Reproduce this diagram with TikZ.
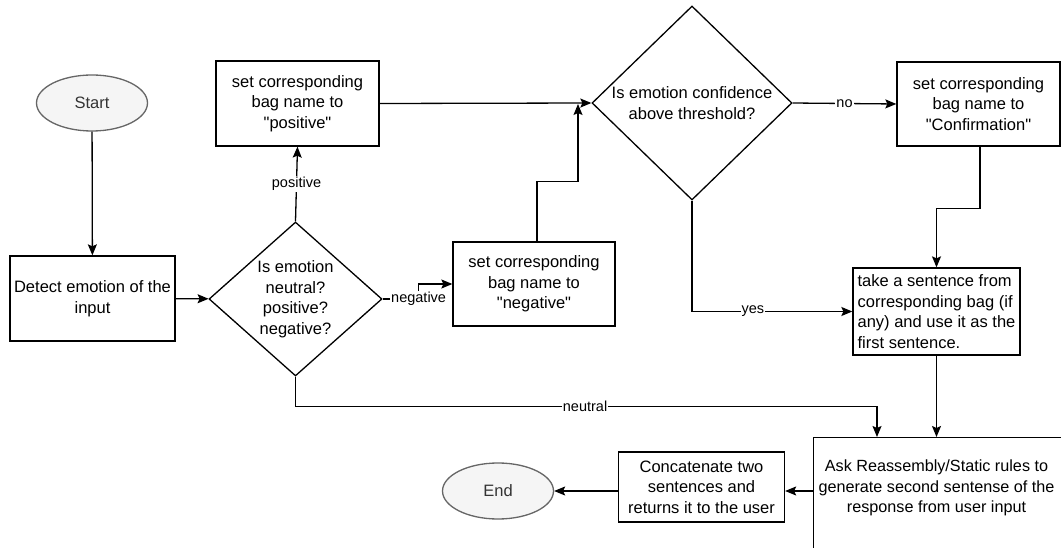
\documentclass[tikz,border=0pt]{standalone}
\usepackage{fontspec}
\setmainfont{Liberation Sans}
\usetikzlibrary{arrows.meta,shapes.geometric}
\definecolor{termfill}{HTML}{F5F5F5}
\definecolor{termline}{HTML}{666666}
\definecolor{termtext}{HTML}{333333}
\newcommand{\dq}[1]{\textquotedbl#1\textquotedbl}
\begin{document}
\begin{tikzpicture}[x=1pt,y=-1pt,
  line width=1.3pt,
  txt/.style={font=\fontsize{16.5}{20.5}\selectfont, align=center},
  box/.style={txt, draw, rectangle, inner sep=2pt},
  decision/.style={txt, draw, diamond, inner sep=0pt},
  term/.style={txt, draw=termline, fill=termfill, text=termtext, ellipse,
    minimum width=111, minimum height=56, inner sep=0pt},
  arr/.style={draw, -{Stealth[length=11pt,width=9pt,inset=2pt]}},
  lbl/.style={font=\fontsize{14.5}{17}\selectfont, fill=white, inner sep=1pt}]
\clip (0,0) rectangle (1061,548);
\fill[white] (0,0) rectangle (1061,548);

% terminals
\node[term] (start) at (92,103) {Start};
\node[term] (end) at (498,491) {End};

% process boxes
\node[box, minimum width=165, minimum height=85] (detect) at (92.5,298.5)
  {Detect emotion of the\\input};
\node[box, minimum width=163, minimum height=85] (pos) at (297.5,103.5)
  {set corresponding\\bag name to\\\dq{positive}};
\node[box, minimum width=162, minimum height=84] (neg) at (534,284)
  {set corresponding\\bag name to\\\dq{negative}};
\node[box, minimum width=163, minimum height=84] (conf) at (978.5,104)
  {set corresponding\\bag name to\\\dq{Confirmation}};
\node[box, minimum width=167, minimum height=87, align=left] (take) at (936.5,311.5)
  {take a sentence from\\corresponding bag (if\\any) and use it as the\\first sentence.};
\node[box, minimum width=166, minimum height=70] (concat) at (701.5,487)
  {Concatenate two\\sentences and\\returns it to the user};
\node[box, anchor=north west, minimum width=260, minimum height=122] (ask) at (813,437) {};
\node[txt, font=\fontsize{16.2}{20.5}\selectfont] (asktext) at (936.5,488)
  {Ask Reassembly/Static rules to\\generate second sentense of the\\response from user input};

% decisions
\node[decision, minimum width=173, minimum height=154] (d1) at (295.5,299)
  {Is emotion\\neutral?\\positive?\\negative?};
\node[decision, minimum width=200, minimum height=194] (d2) at (692,103)
  {Is emotion confidence\\above threshold?};

% connectors
\draw[arr] (start) -- (detect);
\draw[arr] (detect) -- (d1);
\draw[arr] (d1.north) -- node[lbl]{positive} (pos.south);
\draw[arr] (d1.east) -- ++(36,0) node[lbl]{negative} |- (neg.west);
\draw[arr] (pos.east) -- (d2.west);
\draw[arr] ([xshift=3pt]neg.north) -- ++(0,-60) -| (578,104);
\draw[arr] (d2.east) -- node[lbl]{no} (conf.west);
\draw[arr] ([xshift=1.5pt]conf.south) -- ++(0,62) -| (take.north);
\draw[arr] (d2.south) |- node[lbl,pos=0.69]{yes} (take.west);
\draw[arr] (take.south) -- (take.south |- ask.north);
\draw[arr] (d1.south) -- ++(0,30) -| node[lbl,pos=0.249]{neutral} (877,437);
\draw[arr] (ask.west |- end) -- (concat.east |- end);
\draw[arr] (concat.west |- end) -- (end);
\end{tikzpicture}
\end{document}
